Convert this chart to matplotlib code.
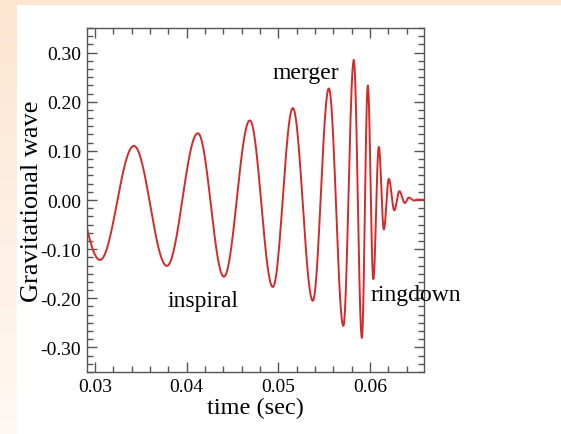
import numpy as np
import matplotlib
matplotlib.use('Agg')
import matplotlib.pyplot as plt
from matplotlib.ticker import MultipleLocator, AutoMinorLocator, FormatStrFormatter

# turning points of the waveform (time in sec, wave amplitude)
# the first one lies just left of the visible range, the last one is where it settles
t_ext = [0.02665, 0.03055, 0.03425, 0.03785, 0.04123, 0.04407, 0.04690, 0.04941,
         0.05159, 0.05377, 0.05552, 0.05710, 0.05824, 0.05912, 0.05977, 0.06037,
         0.06097, 0.06152, 0.06206, 0.06266, 0.06321, 0.06381, 0.06424, 0.06479,
         0.06522, 0.0663]
h_ext = [0.100, -0.122, 0.110, -0.134, 0.136, -0.156, 0.162, -0.177,
         0.187, -0.205, 0.227, -0.256, 0.284, -0.280, 0.233, -0.161,
         0.108, -0.060, 0.043, -0.021, 0.018, -0.006, 0.005, -0.001,
         0.001, 0.0]

labels = ['merger', 'inspiral', 'ringdown']
label_t = [0.0530, 0.04183, 0.0650]
label_h = [0.260, -0.205, -0.193]

# smooth half-cosine between successive turning points
t = []
h = []
for i in range(len(t_ext) - 1):
    f = np.linspace(0, 1, 40)
    t.extend(t_ext[i] + (t_ext[i+1] - t_ext[i]) * f)
    h.extend(h_ext[i] + (h_ext[i+1] - h_ext[i]) * (1 - np.cos(np.pi * f)) / 2)

plt.rcParams['font.family'] = ['Liberation Serif', 'DejaVu Serif']
plt.rcParams['axes.unicode_minus'] = False

fig = plt.figure(figsize=(5.61, 4.35), dpi=100)

# slide background: peach band on top and a fading strip on the left
bg = fig.add_axes([0, 0, 1, 1], zorder=-10)
bg.axis('off')
img = np.ones((435, 561, 3))
peach = np.array([253, 229, 208]) / 255.0
img[:6, :, :] = peach
fade = np.linspace(0, 0.75, 435)[:, None]
img[:, :17, :] = (peach * (1 - fade) + fade)[:, None, :]
bg.imshow(img, aspect='auto', interpolation='nearest')

ax = fig.add_axes([0.1545, 0.1425, 0.6013, 0.7908])
ax.plot(t, h, color='#d42a2a', lw=1.4)
ax.set_xlim(0.0291, 0.0659)
ax.set_ylim(-0.35, 0.35)

ax.xaxis.set_major_locator(MultipleLocator(0.01))
ax.xaxis.set_minor_locator(MultipleLocator(0.002))
ax.yaxis.set_major_locator(MultipleLocator(0.1))
ax.yaxis.set_minor_locator(AutoMinorLocator(6))
ax.xaxis.set_major_formatter(FormatStrFormatter('%.2f'))
ax.yaxis.set_major_formatter(FormatStrFormatter('%.2f'))
ax.tick_params(which='both', direction='in', top=True, right=True,
               labelsize=14, color='#555555', width=1)
ax.tick_params(which='major', length=7, pad=4)
ax.tick_params(which='minor', length=4)
for s in ax.spines.values():
    s.set_color('#555555')
    s.set_linewidth(1)

ax.set_xlabel('time (sec)', fontsize=17.5, va='center')
ax.xaxis.set_label_coords(0.5, -0.102)
ax.set_ylabel('Gravitational wave', fontsize=19, va='center')
ax.yaxis.set_label_coords(-0.163, 0.5)

for lab, lt, lh in zip(labels, label_t, label_h):
    ax.text(lt, lh, lab, ha='center', va='center', fontsize=17)

fig.savefig('out.png', dpi=100)
